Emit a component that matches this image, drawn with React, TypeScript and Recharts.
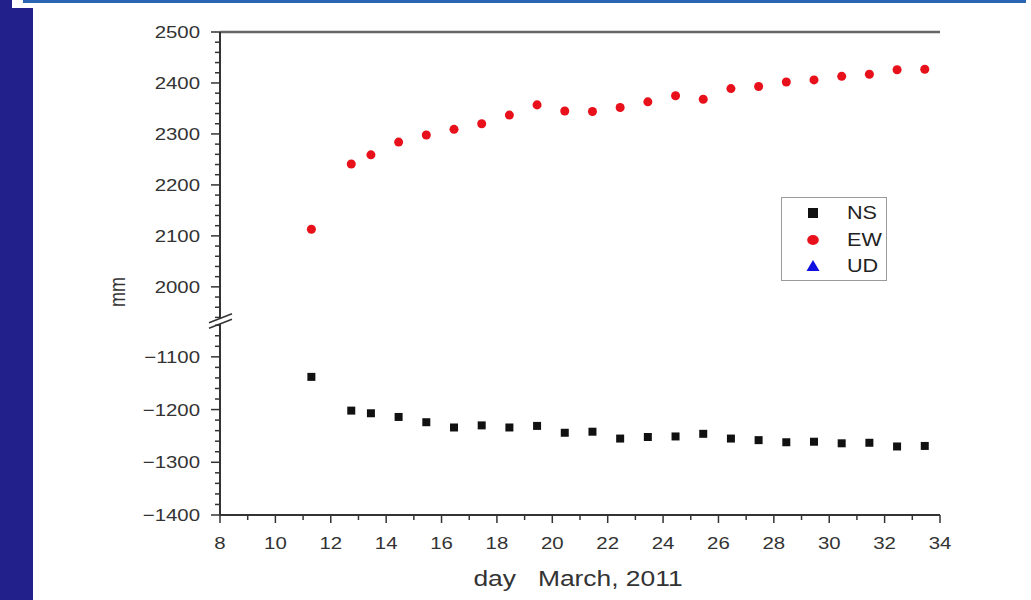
import React from 'react';
import { ScatterChart, Scatter, XAxis, YAxis, ZAxis, Legend, ReferenceLine } from 'recharts';

const FONT = '"Liberation Sans", Arial, Helvetica, sans-serif';

// ---- data ----
const days = [11.3, 12.74, 13.45, 14.45, 15.45, 16.45, 17.45, 18.45, 19.45, 20.45, 21.45, 22.45, 23.45, 24.45, 25.45, 26.45, 27.45, 28.45, 29.45, 30.45, 31.45, 32.45, 33.45];
const ewValues = [2113, 2241, 2259, 2284, 2298, 2309, 2320, 2337, 2357, 2345, 2344, 2352, 2363, 2375, 2368, 2389, 2393, 2402, 2406, 2413, 2417, 2426, 2427];
const nsValues = [-1138, -1202, -1207, -1214, -1224, -1234, -1230, -1234, -1231, -1244, -1242, -1255, -1252, -1251, -1246, -1255, -1258, -1262, -1261, -1264, -1263, -1270, -1269];
const udValues: number[] = [];

const seriesNames = ['NS', 'EW', 'UD'];
const seriesColors = ['#111111', '#e8101a', '#1010e0'];

const xTicks = [8, 9, 10, 11, 12, 13, 14, 15, 16, 17, 18, 19, 20, 21, 22, 23, 24, 25, 26, 27, 28, 29, 30, 31, 32, 33, 34];
const upperTicks = [1940, 1960, 1980, 2000, 2020, 2040, 2060, 2080, 2100, 2120, 2140, 2160, 2180, 2200, 2220, 2240, 2260, 2280, 2300, 2320, 2340, 2360, 2380, 2400, 2420, 2440, 2460, 2480, 2500];
const lowerTicks = [-1400, -1380, -1360, -1340, -1320, -1300, -1280, -1260, -1240, -1220, -1200, -1180, -1160, -1140, -1120, -1100, -1080, -1060, -1040];
const xDomain = [8, 34];
const upperDomain = [1933, 2500];
const lowerDomain = [-1400, -1032];

const xLabel = 'day   March, 2011';
const yLabel = 'mm';

const ewData = days.map((d, i) => ({ x: d, y: ewValues[i] }));
const nsData = days.map((d, i) => ({ x: d, y: nsValues[i] }));
const udData = udValues.map((v, i) => ({ x: days[i], y: v }));

const fmt = (v: number) => (v < 0 ? `\u2212${-v}` : `${v}`);

const YTick = (props: any) => {
  const { x, y, payload } = props;
  const v = payload.value as number;
  const major = v % 100 === 0;
  return (
    <g>
      <line x1={x} x2={x - (major ? 9 : 5)} y1={y} y2={y} stroke="#333" strokeWidth={1.5} />
      {major && (
        <text
          transform={`translate(${x - 20},${y}) scale(1.2,1)`}
          textAnchor="end"
          dy="0.36em"
          fontSize={17}
          fill="#333"
          fontFamily={FONT}
        >
          {fmt(v)}
        </text>
      )}
    </g>
  );
};

const XTick = (props: any) => {
  const { x, y, payload } = props;
  const v = payload.value as number;
  const major = v % 2 === 0;
  return (
    <g>
      <line x1={x} x2={x} y1={y} y2={y + (major ? 8 : 5)} stroke="#333" strokeWidth={1.5} />
      {major && (
        <text
          transform={`translate(${x},${y + 28}) scale(1.2,1)`}
          textAnchor="middle"
          dy="0.36em"
          fontSize={17}
          fill="#333"
          fontFamily={FONT}
        >
          {v}
        </text>
      )}
    </g>
  );
};

const XTitle = (props: any) => {
  const vb = props.viewBox ?? { x: 220, y: 515, width: 720, height: 70 };
  const cx = vb.x + vb.width / 2 - 2;
  const cy = vb.y + 63;
  return (
    <text
      transform={`translate(${cx},${cy}) scale(1.2,1)`}
      textAnchor="middle"
      dy="0.36em"
      fontSize={22}
      fill="#333"
      fontFamily={FONT}
      style={{ whiteSpace: 'pre' }}
    >
      {xLabel}
    </text>
  );
};

const YTitle = (props: any) => {
  const vb = props.viewBox ?? { x: 0, y: 32, width: 220, height: 289 };
  const bx = vb.x + 125;
  const by = 292;
  return (
    <text
      transform={`translate(${bx},${by}) scale(1.2,1) rotate(-90)`}
      textAnchor="middle"
      fontSize={18}
      fill="#333"
      fontFamily={FONT}
    >
      {yLabel}
    </text>
  );
};

const Marker = ({ type, color }: { type: string; color: string }) => {
  if (type === 'square') return <rect x={5} y={7} width={10} height={10} fill={color} />;
  if (type === 'triangle') return <polygon points="10,6 16.5,17 3.5,17" fill={color} />;
  return <ellipse cx={10} cy={12} rx={5.8} ry={5} fill={color} />;
};

const LegendContent = (props: any) => {
  const payload = [...(props.payload ?? [])].sort(
    (a: any, b: any) => seriesNames.indexOf(a.value) - seriesNames.indexOf(b.value)
  );
  return (
    <div
      style={{
        position: 'relative',
        width: 106,
        height: 84,
        border: '1.5px solid #9a9a9a',
        boxSizing: 'border-box',
        background: '#fff',
      }}
    >
      {payload.map((entry: any, i: number) => {
        const cy = 15 + i * 26.5;
        return (
          <div key={entry.value} style={{ position: 'absolute', left: 0, top: cy - 12, height: 24, width: '100%' }}>
            <svg width={20} height={24} style={{ position: 'absolute', left: 21, top: 0 }}>
              <Marker type={entry.type} color={entry.color} />
            </svg>
            <span
              style={{
                position: 'absolute',
                left: 65,
                top: 0,
                lineHeight: '24px',
                fontSize: 18,
                fontFamily: FONT,
                color: '#222',
                display: 'inline-block',
                transform: 'scaleX(1.2)',
                transformOrigin: 'left center',
                whiteSpace: 'nowrap',
              }}
            >
              {entry.value}
            </span>
          </div>
        );
      })}
    </div>
  );
};

const abs: React.CSSProperties = { position: 'absolute', left: 0, top: 0 };

export default function App() {
  return (
    <div style={{ position: 'absolute', left: 0, top: 0, width: 1031, height: 600, background: '#fff', overflow: 'hidden' }}>
      {/* upper section: EW */}
      <div style={abs}>
        <ScatterChart width={1031} height={600} margin={{ top: 32, right: 91, bottom: 279, left: 0 }}>
          <XAxis dataKey="x" type="number" domain={xDomain} hide />
          <YAxis
            dataKey="y"
            type="number"
            domain={upperDomain}
            ticks={upperTicks}
            interval={0}
            width={220}
            tickSize={0}
            tickMargin={0}
            tickLine={false}
            tick={<YTick />}
            axisLine={{ stroke: '#333', strokeWidth: 2 }}
            label={{ content: (p: any) => <YTitle {...p} /> }}
          />
          <YAxis
            yAxisId="right"
            orientation="right"
            type="number"
            domain={[0, 1]}
            width={0}
            tick={false}
            tickLine={false}
            axisLine={{ stroke: '#6a6a6a', strokeWidth: 2.5 }}
          />
          <ZAxis range={[100, 100]} />
          <ReferenceLine y={upperDomain[1]} stroke="#666" strokeWidth={2.5} ifOverflow="visible" />
          <Scatter name={seriesNames[0]} data={[]} fill={seriesColors[0]} shape="square" legendType="square" isAnimationActive={false} />
          <Scatter name={seriesNames[1]} data={ewData} fill={seriesColors[1]} shape="circle" legendType="circle" isAnimationActive={false} />
          <Scatter name={seriesNames[2]} data={udData} fill={seriesColors[2]} shape="triangle" legendType="triangle" isAnimationActive={false} />
          <Legend
            layout="vertical"
            align="center"
            verticalAlign="middle"
            content={<LegendContent />}
            wrapperStyle={{ position: 'absolute', left: 781, top: 197, width: 106, height: 84, bottom: 'auto', right: 'auto' }}
          />
        </ScatterChart>
      </div>

      {/* lower section: NS */}
      <div style={abs}>
        <ScatterChart width={1031} height={600} margin={{ top: 321, right: 91, bottom: 15, left: 0 }}>
          <XAxis
            dataKey="x"
            type="number"
            domain={xDomain}
            ticks={xTicks}
            interval={0}
            height={70}
            tickSize={0}
            tickMargin={0}
            tickLine={false}
            tick={<XTick />}
            axisLine={{ stroke: '#333', strokeWidth: 2 }}
            label={{ content: (p: any) => <XTitle {...p} /> }}
          />
          <YAxis
            dataKey="y"
            type="number"
            domain={lowerDomain}
            ticks={lowerTicks}
            interval={0}
            width={220}
            tickSize={0}
            tickMargin={0}
            tickLine={false}
            tick={<YTick />}
            axisLine={{ stroke: '#333', strokeWidth: 2 }}
          />
          <YAxis
            yAxisId="right"
            orientation="right"
            type="number"
            domain={[0, 1]}
            width={0}
            tick={false}
            tickLine={false}
            axisLine={{ stroke: '#6a6a6a', strokeWidth: 2.5 }}
          />
          <ZAxis range={[112, 112]} />
          <Scatter name={seriesNames[0]} data={nsData} fill={seriesColors[0]} shape="square" legendType="square" isAnimationActive={false} />
        </ScatterChart>
      </div>

      {/* page decoration + axis break marks */}
      <div style={{ position: 'absolute', left: 0, top: 0, width: 12, height: 600, background: '#22208a' }} />
      <div style={{ position: 'absolute', left: 12, top: 8, width: 21, height: 592, background: '#22208a' }} />
      <div style={{ position: 'absolute', left: 23, top: 0, width: 1003, height: 3, background: '#2a64b2' }} />
      <svg width={1031} height={600} style={{ position: 'absolute', left: 0, top: 0, pointerEvents: 'none' }}>
        <rect x={214} y={318.5} width={12} height={5.5} fill="#fff" />
        <line x1={209} y1={322.8} x2={232} y2={313.8} stroke="#333" strokeWidth={1.5} />
        <line x1={209} y1={328.3} x2={232} y2={319.3} stroke="#333" strokeWidth={1.5} />
      </svg>
    </div>
  );
}
